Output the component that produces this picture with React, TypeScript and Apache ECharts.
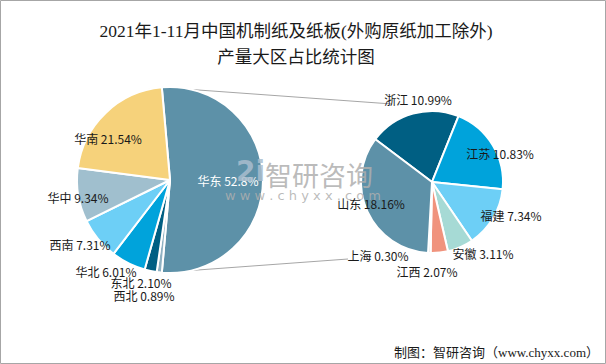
import React, { useEffect, useRef } from "react";
import * as echarts from "echarts";

// Primary pie (大区)
const leftNames = ["华东", "西北", "东北", "华北", "西南", "华中", "华南"];
const leftValues = [52.8, 0.89, 2.1, 6.01, 7.31, 9.34, 21.54];
const leftPctText = ["52.8%", "0.89%", "2.10%", "6.01%", "7.31%", "9.34%", "21.54%"];
const leftColors = ["#5D91A8", "#8FB1C2", "#005F83", "#00A3DB", "#6DCFF6", "#A0BFCE", "#F6D27B"];

// Secondary pie (华东 breakdown)
const rightNames = ["浙江", "江苏", "福建", "安徽", "江西", "上海", "山东"];
const rightValues = [10.99, 10.83, 7.34, 3.11, 2.07, 0.3, 18.16];
const rightPctText = ["10.99%", "10.83%", "7.34%", "3.11%", "2.07%", "0.30%", "18.16%"];
const rightColors = ["#005F83", "#00A3DB", "#6DCFF6", "#A6DAD5", "#F0937D", "#D9D9D9", "#5D91A8"];

const titleText = "2021年1-11月中国机制纸及纸板(外购原纸加工除外)\n产量大区占比统计图";
const footerText = "制图：智研咨询（www.chyxx.com）";

// layout constants
const LEFT_C = [170, 180];
const LEFT_R = 93;
const RIGHT_C = [432, 182];
const RIGHT_R = 71;
const leftLabelOffsets = [[58, 0], [-26, 115], [-29, 102], [-64, 91], [-90, 64], [-92, 17], [-62, -42]];
const rightLabelOffsets = [[-14, -83], [68, -29], [79, 33], [51, 71], [-5, 89], [-54, 73], [-61, 21]];

export default function App() {
  const ref = useRef<HTMLDivElement>(null);
  useEffect(() => {
    document.body.style.margin = "0";
    if (!ref.current) return;
    const chart = echarts.init(ref.current, null, { renderer: "svg" });
    const leftStart = (leftValues[0] / leftValues.reduce((a, b) => a + b, 0)) * 360 / 2;
    const labelFont = "'Noto Sans CJK SC', 'Microsoft YaHei', sans-serif";
    const a = (leftStart * Math.PI) / 180;
    const topStart = [LEFT_C[0] + LEFT_R * Math.cos(a), LEFT_C[1] - LEFT_R * Math.sin(a)];
    const botStart = [LEFT_C[0] + LEFT_R * Math.cos(-a), LEFT_C[1] - LEFT_R * Math.sin(-a)];
    const option: any = {
      animation: false,
      backgroundColor: "#ffffff",
      title: {
        text: titleText,
        left: 291,
        textAlign: "center",
        top: 13,
        textStyle: {
          fontFamily: "'Liberation Serif', 'Noto Sans CJK SC', serif",
          fontSize: 17.5,
          fontWeight: "normal",
          color: "#1a1a1a",
          lineHeight: 26,
        },
      },
      graphic: [
        {
          type: "rect",
          shape: { x: 0.5, y: 0.5, width: 605, height: 363 },
          style: { fill: "none", stroke: "#a6a6a6", lineWidth: 1 },
          z: 0,
        },
        {
          type: "line",
          shape: { x1: topStart[0], y1: topStart[1], x2: RIGHT_C[0] - 40, y2: RIGHT_C[1] - 78 },
          style: { stroke: "#a6a6a6", lineWidth: 1 },
          z: 0,
        },
        {
          type: "line",
          shape: { x1: botStart[0], y1: botStart[1], x2: RIGHT_C[0] - 84, y2: RIGHT_C[1] + 77 },
          style: { stroke: "#a6a6a6", lineWidth: 1 },
          z: 0,
        },
        {
          type: "text",
          x: 236,
          y: 171,
          z: 100,
          style: {
            text: "2i",
            font: "bold 28px 'DejaVu Sans', sans-serif",
            fill: "rgba(170,190,206,0.85)",
            textVerticalAlign: "middle",
          },
        },
        {
          type: "text",
          x: 319,
          y: 174,
          z: 100,
          style: {
            text: "智研咨询",
            font: "27px 'Noto Sans CJK SC', sans-serif",
            fill: "rgba(175,175,175,0.85)",
            textAlign: "center",
            textVerticalAlign: "middle",
          },
        },
        {
          type: "text",
          x: 303,
          y: 195,
          z: 100,
          style: {
            text: "w w w . c h y x x . c o m",
            font: "13px 'DejaVu Sans', sans-serif",
            fill: "rgba(175,175,175,0.85)",
            textAlign: "center",
            textVerticalAlign: "middle",
          },
        },
        {
          type: "text",
          x: 599,
          y: 352,
          z: 100,
          style: {
            text: footerText,
            font: "13px 'Liberation Serif', 'Noto Sans CJK SC', serif",
            fill: "#1a1a1a",
            textAlign: "right",
            textVerticalAlign: "middle",
          },
        },
      ],
      series: [
        {
          type: "pie",
          center: LEFT_C,
          radius: LEFT_R,
          startAngle: leftStart,
          clockwise: true,
          avoidLabelOverlap: false,
          itemStyle: { borderColor: "#ffffff", borderWidth: 2 },
          label: {
            show: true,
            position: "inside",
            fontFamily: labelFont,
            fontSize: 12,
            color: "#1a1a1a",
            formatter: (p: any) => `${p.name} ${leftPctText[p.dataIndex]}`,
          },
          labelLine: { show: false },
          labelLayout: (p: any) => {
            const o = leftLabelOffsets[p.dataIndex];
            return { x: LEFT_C[0] + o[0], y: LEFT_C[1] + o[1], align: "center", verticalAlign: "middle" };
          },
          data: leftNames.map((n, i) => ({
            name: n,
            value: leftValues[i],
            itemStyle: { color: leftColors[i] },
            label: i === 0 ? { color: "#ffffff" } : undefined,
          })),
        },
        {
          type: "pie",
          center: RIGHT_C,
          radius: RIGHT_R,
          startAngle: 143,
          clockwise: true,
          avoidLabelOverlap: false,
          itemStyle: { borderColor: "#ffffff", borderWidth: 2 },
          label: {
            show: true,
            position: "inside",
            fontFamily: labelFont,
            fontSize: 12,
            color: "#1a1a1a",
            formatter: (p: any) => `${p.name} ${rightPctText[p.dataIndex]}`,
          },
          labelLine: { show: false },
          labelLayout: (p: any) => {
            const o = rightLabelOffsets[p.dataIndex];
            return { x: RIGHT_C[0] + o[0], y: RIGHT_C[1] + o[1], align: "center", verticalAlign: "middle" };
          },
          data: rightNames.map((n, i) => ({
            name: n,
            value: rightValues[i],
            itemStyle: { color: rightColors[i] },
          })),
        },
      ],
    };
    chart.setOption(option);
    return () => chart.dispose();
  }, []);
  return <div ref={ref} style={{ width: 606, height: 364 }} />;
}
